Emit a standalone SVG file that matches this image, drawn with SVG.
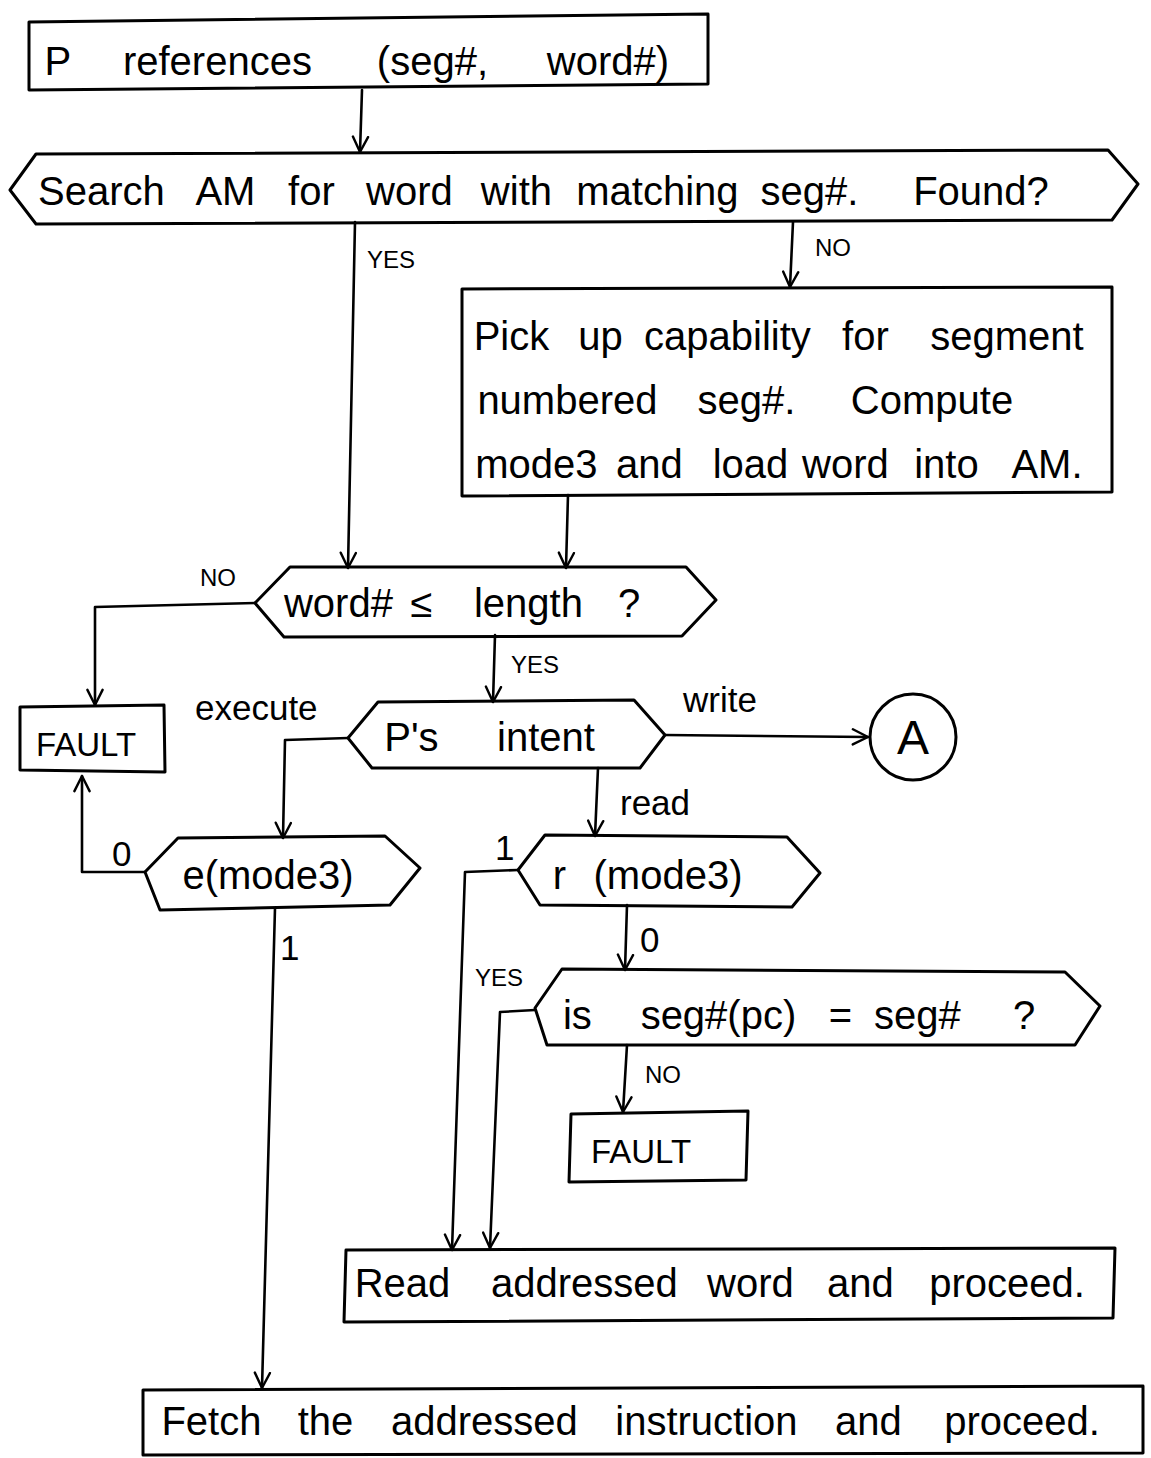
<svg xmlns="http://www.w3.org/2000/svg" width="1151" height="1458" viewBox="0 0 1151 1458">
  <style>
    .shape { fill: none; stroke: #000; stroke-width: 3; stroke-linejoin: round; stroke-linecap: round; }
    .conn { fill: none; stroke: #000; stroke-width: 2.6; stroke-linejoin: round; stroke-linecap: round; }
    text { font-family: "Liberation Sans", "DejaVu Sans", sans-serif; fill: #000; }
    .t { font-size: 40px; text-anchor: middle; }
    .lbl { font-size: 24px; }
    .word { font-size: 35px; }
    .fault { font-size: 33px; text-anchor: middle; }
  </style>
  <defs>
    <marker id="arrow" viewBox="0 0 12 12" refX="11" refY="6" markerWidth="7" markerHeight="7" markerUnits="strokeWidth" orient="auto">
      <path d="M1,1 L11,6 L1,11" fill="none" stroke="#000" stroke-width="1.6" stroke-linecap="round" stroke-linejoin="round"/>
    </marker>
  </defs>
  <rect width="1151" height="1458" fill="#fff"/>

  <g id="connectors">
    <path class="conn" d="M362,90 L360,152" marker-end="url(#arrow)"/>
    <path class="conn" d="M355,222 L348,568" marker-end="url(#arrow)"/>
    <path class="conn" d="M793,222 L790,287" marker-end="url(#arrow)"/>
    <path class="conn" d="M568,495 L566,568" marker-end="url(#arrow)"/>
    <path class="conn" d="M255,603 L95,607 L95,705" marker-end="url(#arrow)"/>
    <path class="conn" d="M495,635 L493,702" marker-end="url(#arrow)"/>
    <path class="conn" d="M348,738 L285,740 L283,838" marker-end="url(#arrow)"/>
    <path class="conn" d="M665,735 L868,737" marker-end="url(#arrow)"/>
    <path class="conn" d="M598,768 L595,836" marker-end="url(#arrow)"/>
    <path class="conn" d="M145,872 L82,872 L82,776" marker-end="url(#arrow)"/>
    <path class="conn" d="M275,908 L262,1388" marker-end="url(#arrow)"/>
    <path class="conn" d="M518,870 L465,872 L452,1250" marker-end="url(#arrow)"/>
    <path class="conn" d="M627,905 L625,970" marker-end="url(#arrow)"/>
    <path class="conn" d="M535,1010 L500,1012 L490,1248" marker-end="url(#arrow)"/>
    <path class="conn" d="M627,1045 L623,1112" marker-end="url(#arrow)"/>

    <text class="lbl" x="367" y="268">YES</text>
    <text class="lbl" x="815" y="256">NO</text>
    <text class="lbl" x="200" y="586">NO</text>
    <text class="lbl" x="511" y="673">YES</text>
    <text class="word" x="195" y="720">execute</text>
    <text class="word" x="683" y="712">write</text>
    <text class="word" x="620" y="815">read</text>
    <text class="word" x="112" y="866">0</text>
    <text class="word" x="280" y="960">1</text>
    <text class="word" x="495" y="860">1</text>
    <text class="word" x="640" y="952">0</text>
    <text class="lbl" x="475" y="986">YES</text>
    <text class="lbl" x="645" y="1083">NO</text>
  </g>

  <g id="n-references">
    <path class="shape" d="M29,22 L708,14 L708,84 L29,90 Z"/>
    <text class="t" y="75"><tspan x="63">P</tspan> <tspan x="223">references</tspan> <tspan x="438">(seg#,</tspan> <tspan x="608">word#)</tspan></text>
  </g>

  <g id="n-search">
    <path class="shape" d="M10,190 L36,154 L1108,150 L1138,184 L1112,220 L36,224 Z"/>
    <text class="t" y="205"><tspan x="107">Search</tspan> <tspan x="231">AM</tspan> <tspan x="317">for</tspan> <tspan x="415">word</tspan> <tspan x="522">with</tspan> <tspan x="663">matching</tspan> <tspan x="815">seg#.</tspan> <tspan x="981">Found?</tspan></text>
  </g>

  <g id="n-capability">
    <path class="shape" d="M462,289 L1112,287 L1112,492 L462,496 Z"/>
    <text class="t" y="350"><tspan x="517">Pick</tspan> <tspan x="606">up</tspan> <tspan x="733">capability</tspan> <tspan x="871">for</tspan> <tspan x="1007">segment</tspan></text>
    <text class="t" y="414"><tspan x="573">numbered</tspan> <tspan x="752">seg#.</tspan> <tspan x="932">Compute</tspan></text>
    <text class="t" y="478"><tspan x="542">mode3</tspan> <tspan x="655">and</tspan> <tspan x="756">load</tspan> <tspan x="851">word</tspan> <tspan x="952">into</tspan> <tspan x="1047">AM.</tspan></text>
  </g>

  <g id="n-length">
    <path class="shape" d="M255,603 L290,567 L686,567 L716,600 L682,636 L284,637 Z"/>
    <text class="t" y="617"><tspan x="344">word#</tspan> <tspan x="427">≤</tspan> <tspan x="534">length</tspan> <tspan x="629">?</tspan></text>
  </g>

  <g id="n-fault1">
    <path class="shape" d="M20,707 L164,705 L165,772 L20,770 Z"/>
    <text class="fault" x="86" y="756">FAULT</text>
  </g>

  <g id="n-intent">
    <path class="shape" d="M348,738 L378,702 L634,700 L665,735 L640,768 L372,768 Z"/>
    <text class="t" y="751"><tspan x="417">P's</tspan> <tspan x="546">intent</tspan></text>
  </g>

  <g id="n-a">
    <circle class="shape" cx="913" cy="737" r="43"/>
    <text class="t" style="font-size:48px" x="913" y="754">A</text>
  </g>

  <g id="n-emode">
    <path class="shape" d="M145,872 L178,838 L385,836 L420,868 L390,905 L160,910 Z"/>
    <text class="t" x="268" y="889">e(mode3)</text>
  </g>

  <g id="n-rmode">
    <path class="shape" d="M518,870 L545,835 L787,837 L820,873 L792,907 L540,905 Z"/>
    <text class="t" y="889"><tspan x="565">r</tspan> <tspan x="668">(mode3)</tspan></text>
  </g>

  <g id="n-segpc">
    <path class="shape" d="M535,1008 L562,969 L1065,972 L1100,1006 L1075,1045 L547,1045 Z"/>
    <text class="t" y="1029"><tspan x="583">is</tspan> <tspan x="724">seg#(pc)</tspan> <tspan x="846">=</tspan> <tspan x="923">seg#</tspan> <tspan x="1024">?</tspan></text>
  </g>

  <g id="n-fault2">
    <path class="shape" d="M571,1114 L748,1111 L746,1180 L569,1182 Z"/>
    <text class="fault" x="641" y="1163">FAULT</text>
  </g>

  <g id="n-read">
    <path class="shape" d="M346,1250 L1115,1248 L1113,1318 L344,1322 Z"/>
    <text class="t" y="1297"><tspan x="408">Read</tspan> <tspan x="590">addressed</tspan> <tspan x="756">word</tspan> <tspan x="866">and</tspan> <tspan x="1007">proceed.</tspan></text>
  </g>

  <g id="n-fetch">
    <path class="shape" d="M143,1390 L1143,1386 L1143,1453 L143,1455 Z"/>
    <text class="t" y="1435"><tspan x="217">Fetch</tspan> <tspan x="331">the</tspan> <tspan x="490">addressed</tspan> <tspan x="712">instruction</tspan> <tspan x="874">and</tspan> <tspan x="1022">proceed.</tspan></text>
  </g>
</svg>
